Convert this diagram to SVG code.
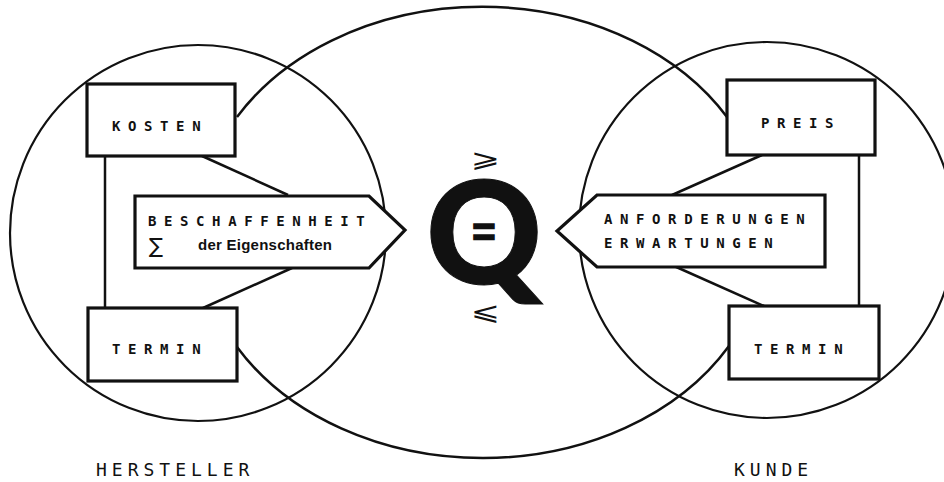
<svg xmlns="http://www.w3.org/2000/svg" width="944" height="482" viewBox="0 0 944 482">
<style>
.ring{fill:none;stroke:#111;stroke-width:2.2}
.con{fill:none;stroke:#111;stroke-width:2.5}
.box{fill:#fff;stroke:#111;stroke-width:3.2;stroke-linejoin:miter}
.lbl{font-family:"DejaVu Sans Mono","Liberation Mono",monospace;font-weight:bold;font-size:14px;letter-spacing:7.6px;fill:#111}
.side{font-family:"DejaVu Sans Mono","Liberation Mono",monospace;font-size:18px;letter-spacing:5px;fill:#111}
.sub{font-family:"Liberation Sans",Arial,sans-serif;font-weight:bold;font-size:15px;fill:#111}
.sym{font-family:"DejaVu Sans",sans-serif;fill:#111}
</style>
<rect width="944" height="482" fill="#fff"/>
<g id="regions">
<circle class="ring" cx="198" cy="233" r="188"/>
<circle class="ring" cx="767" cy="230" r="188"/>
</g>
<g id="connectors">
<path class="con" d="M237,117 A284,223 0 0,1 727,117"/>
<path class="con" d="M237,347 A284,223 0 0,0 729,346"/>
<line class="con" x1="105" y1="156" x2="105" y2="308"/>
<line class="con" x1="859" y1="155" x2="859" y2="306"/>
<line class="con" x1="202" y1="156" x2="288" y2="195"/>
<line class="con" x1="292" y1="268" x2="203" y2="308"/>
<line class="con" x1="762" y1="155" x2="672" y2="195"/>
<line class="con" x1="674" y1="266" x2="764" y2="306"/>
</g>
<g id="kosten">
<rect class="box" x="87" y="84" width="148" height="72"/>
<text class="lbl" x="112" y="131">KOSTEN</text>
</g>
<g id="termin-hersteller">
<rect class="box" x="88" y="308" width="149" height="73"/>
<text class="lbl" x="112" y="354">TERMIN</text>
</g>
<g id="beschaffenheit">
<polygon class="box" points="135,196 369,196 405,230 369,268 135,268"/>
<text class="lbl" x="148" y="226">BESCHAFFENHEIT</text>
<text class="sym" x="149" y="253" font-size="21">∑</text>
<text class="sub" x="198" y="250" textLength="134">der Eigenschaften</text>
</g>
<g id="preis">
<rect class="box" x="727" y="80" width="148" height="75"/>
<text class="lbl" x="761" y="128">PREIS</text>
</g>
<g id="termin-kunde">
<rect class="box" x="729" y="306" width="150" height="73"/>
<text class="lbl" x="754" y="354">TERMIN</text>
</g>
<g id="anforderungen">
<polygon class="box" points="597,195 825,195 825,267 597,267 557,231"/>
<text class="lbl" x="604" y="224">ANFORDERUNGEN</text>
<text class="lbl" x="604" y="248">ERWARTUNGEN</text>
</g>
<g id="qualitaet">
<text class="sym" font-size="25" transform="translate(471,167) scale(1.4,1)">⩾</text>
<text x="484" y="284" text-anchor="middle" font-family="Lato,Liberation Sans,sans-serif" font-weight="900" font-size="143" fill="#111" stroke="#111" stroke-width="1">Q</text>
<text x="484" y="246" text-anchor="middle" font-family="Liberation Sans,Arial,sans-serif" font-weight="bold" font-size="40" fill="#111" stroke="#111" stroke-width="1.5">=</text>
<text class="sym" font-size="25" transform="translate(471,320) scale(1.4,1)">⩽</text>
</g>
<g id="sides">
<text class="side" x="96" y="476">HERSTELLER</text>
<text class="side" x="734" y="476">KUNDE</text>
</g>
</svg>
